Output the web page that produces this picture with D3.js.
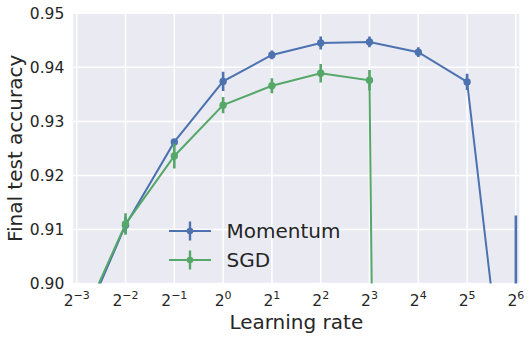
<!DOCTYPE html>
<html><head><meta charset="utf-8">
<script src="https://cdn.jsdelivr.net/npm/d3@7"></script>
<style>
body{margin:0;background:#fff}
text{font-family:"DejaVu Sans",sans-serif;fill:#262626}
</style>
</head><body><svg id="c" width="532" height="340"></svg>
<script>
// ---- data ----
const learningRates = [0.125, 0.25, 0.5, 1, 2, 4, 8, 16, 32, 64];
const momentumAcc = [0.8899, 0.9108, 0.9262, 0.9374, 0.9423, 0.9445, 0.9447, 0.9428, 0.9373, 0.8600];
const momentumErr = [0.0015, 0.0015, 0.0005, 0.0018, 0.0008, 0.0012, 0.0010, 0.0009, 0.0015, 0.0526];
const sgdAcc = [0.8909, 0.9110, 0.9236, 0.9330, 0.9366, 0.9389, 0.9376, 0.1000, 0.1000, 0.1000];
const sgdErr = [0.0015, 0.0020, 0.0023, 0.0015, 0.0014, 0.0017, 0.0019, 0.0000, 0.0000, 0.0000];
const xTickExps = [-3, -2, -1, 0, 1, 2, 3, 4, 5, 6];
const yTicks = [0.90, 0.91, 0.92, 0.93, 0.94, 0.95];
const seriesNames = ["Momentum", "SGD"];
const seriesColors = ["#4c72b0", "#55a868"];

// ---- layout ----
const L = 73.3, R = 519.3, T = 13.3, B = 283.5;
const svg = d3.select("#c");
const x = d3.scaleLog().base(2).domain([Math.pow(2, -3.07), Math.pow(2, 6.07)]).range([L, R]);
const y = d3.scaleLinear().domain([0.90, 0.95]).range([B, T]);

svg.append("rect").attr("x", L).attr("y", T).attr("width", R - L).attr("height", B - T).attr("fill", "#eaeaf2");
svg.append("defs").append("clipPath").attr("id", "clip")
  .append("rect").attr("x", L).attr("y", T).attr("width", R - L).attr("height", B - T);

// grid
const grid = svg.append("g");
grid.selectAll(".gx").data(xTickExps).join("line")
  .attr("x1", d => x(Math.pow(2, d))).attr("x2", d => x(Math.pow(2, d)))
  .attr("y1", T).attr("y2", B).attr("stroke", "#fff").attr("stroke-width", 1.5);
grid.selectAll(".gy").data(yTicks).join("line")
  .attr("y1", d => y(d)).attr("y2", d => y(d))
  .attr("x1", L).attr("x2", R).attr("stroke", "#fff").attr("stroke-width", 1.5);

// y tick labels
svg.append("g").selectAll("text").data(yTicks).join("text")
  .attr("x", L - 9).attr("y", d => y(d)).attr("dy", "0.36em")
  .attr("text-anchor", "end").attr("font-size", 15.5)
  .text(d => d3.format(".2f")(d));

// x tick labels with superscripts
const xt = svg.append("g").selectAll("text").data(xTickExps).join("text")
  .attr("x", d => x(Math.pow(2, d))).attr("y", B + 22.5)
  .attr("text-anchor", "middle").attr("font-size", 15.5);
xt.append("tspan").text("2");
xt.append("tspan").attr("font-size", 11).attr("dy", -7)
  .text(d => (d < 0 ? "\u2212" + Math.abs(d) : String(d)));

// axis labels
svg.append("text").attr("x", (L + R) / 2).attr("y", 328.5).attr("text-anchor", "middle")
  .attr("font-size", 20).text("Learning rate");
svg.append("text").attr("transform", `translate(22,${(T + B) / 2}) rotate(-90)`)
  .attr("text-anchor", "middle").attr("font-size", 20).text("Final test accuracy");

// series
const plot = svg.append("g").attr("clip-path", "url(#clip)");
const series = [
  { name: seriesNames[0], color: seriesColors[0], acc: momentumAcc, err: momentumErr },
  { name: seriesNames[1], color: seriesColors[1], acc: sgdAcc, err: sgdErr }
];
const line = d3.line().x(d => x(d.lr)).y(d => y(d.acc));
series.forEach(s => {
  const pts = learningRates.map((lr, i) => ({ lr, acc: s.acc[i], err: s.err[i] }));
  const g = plot.append("g");
  g.append("path").datum(pts).attr("d", line).attr("fill", "none")
    .attr("stroke", s.color).attr("stroke-width", 2);
  g.selectAll("line.err").data(pts).join("line")
    .attr("x1", d => x(d.lr)).attr("x2", d => x(d.lr))
    .attr("y1", d => y(d.acc - d.err)).attr("y2", d => y(d.acc + d.err))
    .attr("stroke", s.color).attr("stroke-width", 2.6);
  g.selectAll("circle").data(pts).join("circle")
    .attr("cx", d => x(d.lr)).attr("cy", d => y(d.acc)).attr("r", 3.7)
    .attr("fill", s.color);
});

// legend
const leg = svg.append("g");
series.forEach((s, i) => {
  const cy = 231 + i * 29;
  leg.append("line").attr("x1", 169).attr("x2", 211).attr("y1", cy).attr("y2", cy)
    .attr("stroke", s.color).attr("stroke-width", 2);
  leg.append("line").attr("x1", 190).attr("x2", 190).attr("y1", cy - 9.5).attr("y2", cy + 9.5)
    .attr("stroke", s.color).attr("stroke-width", 2.4);
  leg.append("circle").attr("cx", 190).attr("cy", cy).attr("r", 3.3).attr("fill", s.color);
  leg.append("text").attr("x", 226.5).attr("y", cy).attr("dy", "0.37em")
    .attr("font-size", 20).text(s.name);
});
</script>
</body></html>
